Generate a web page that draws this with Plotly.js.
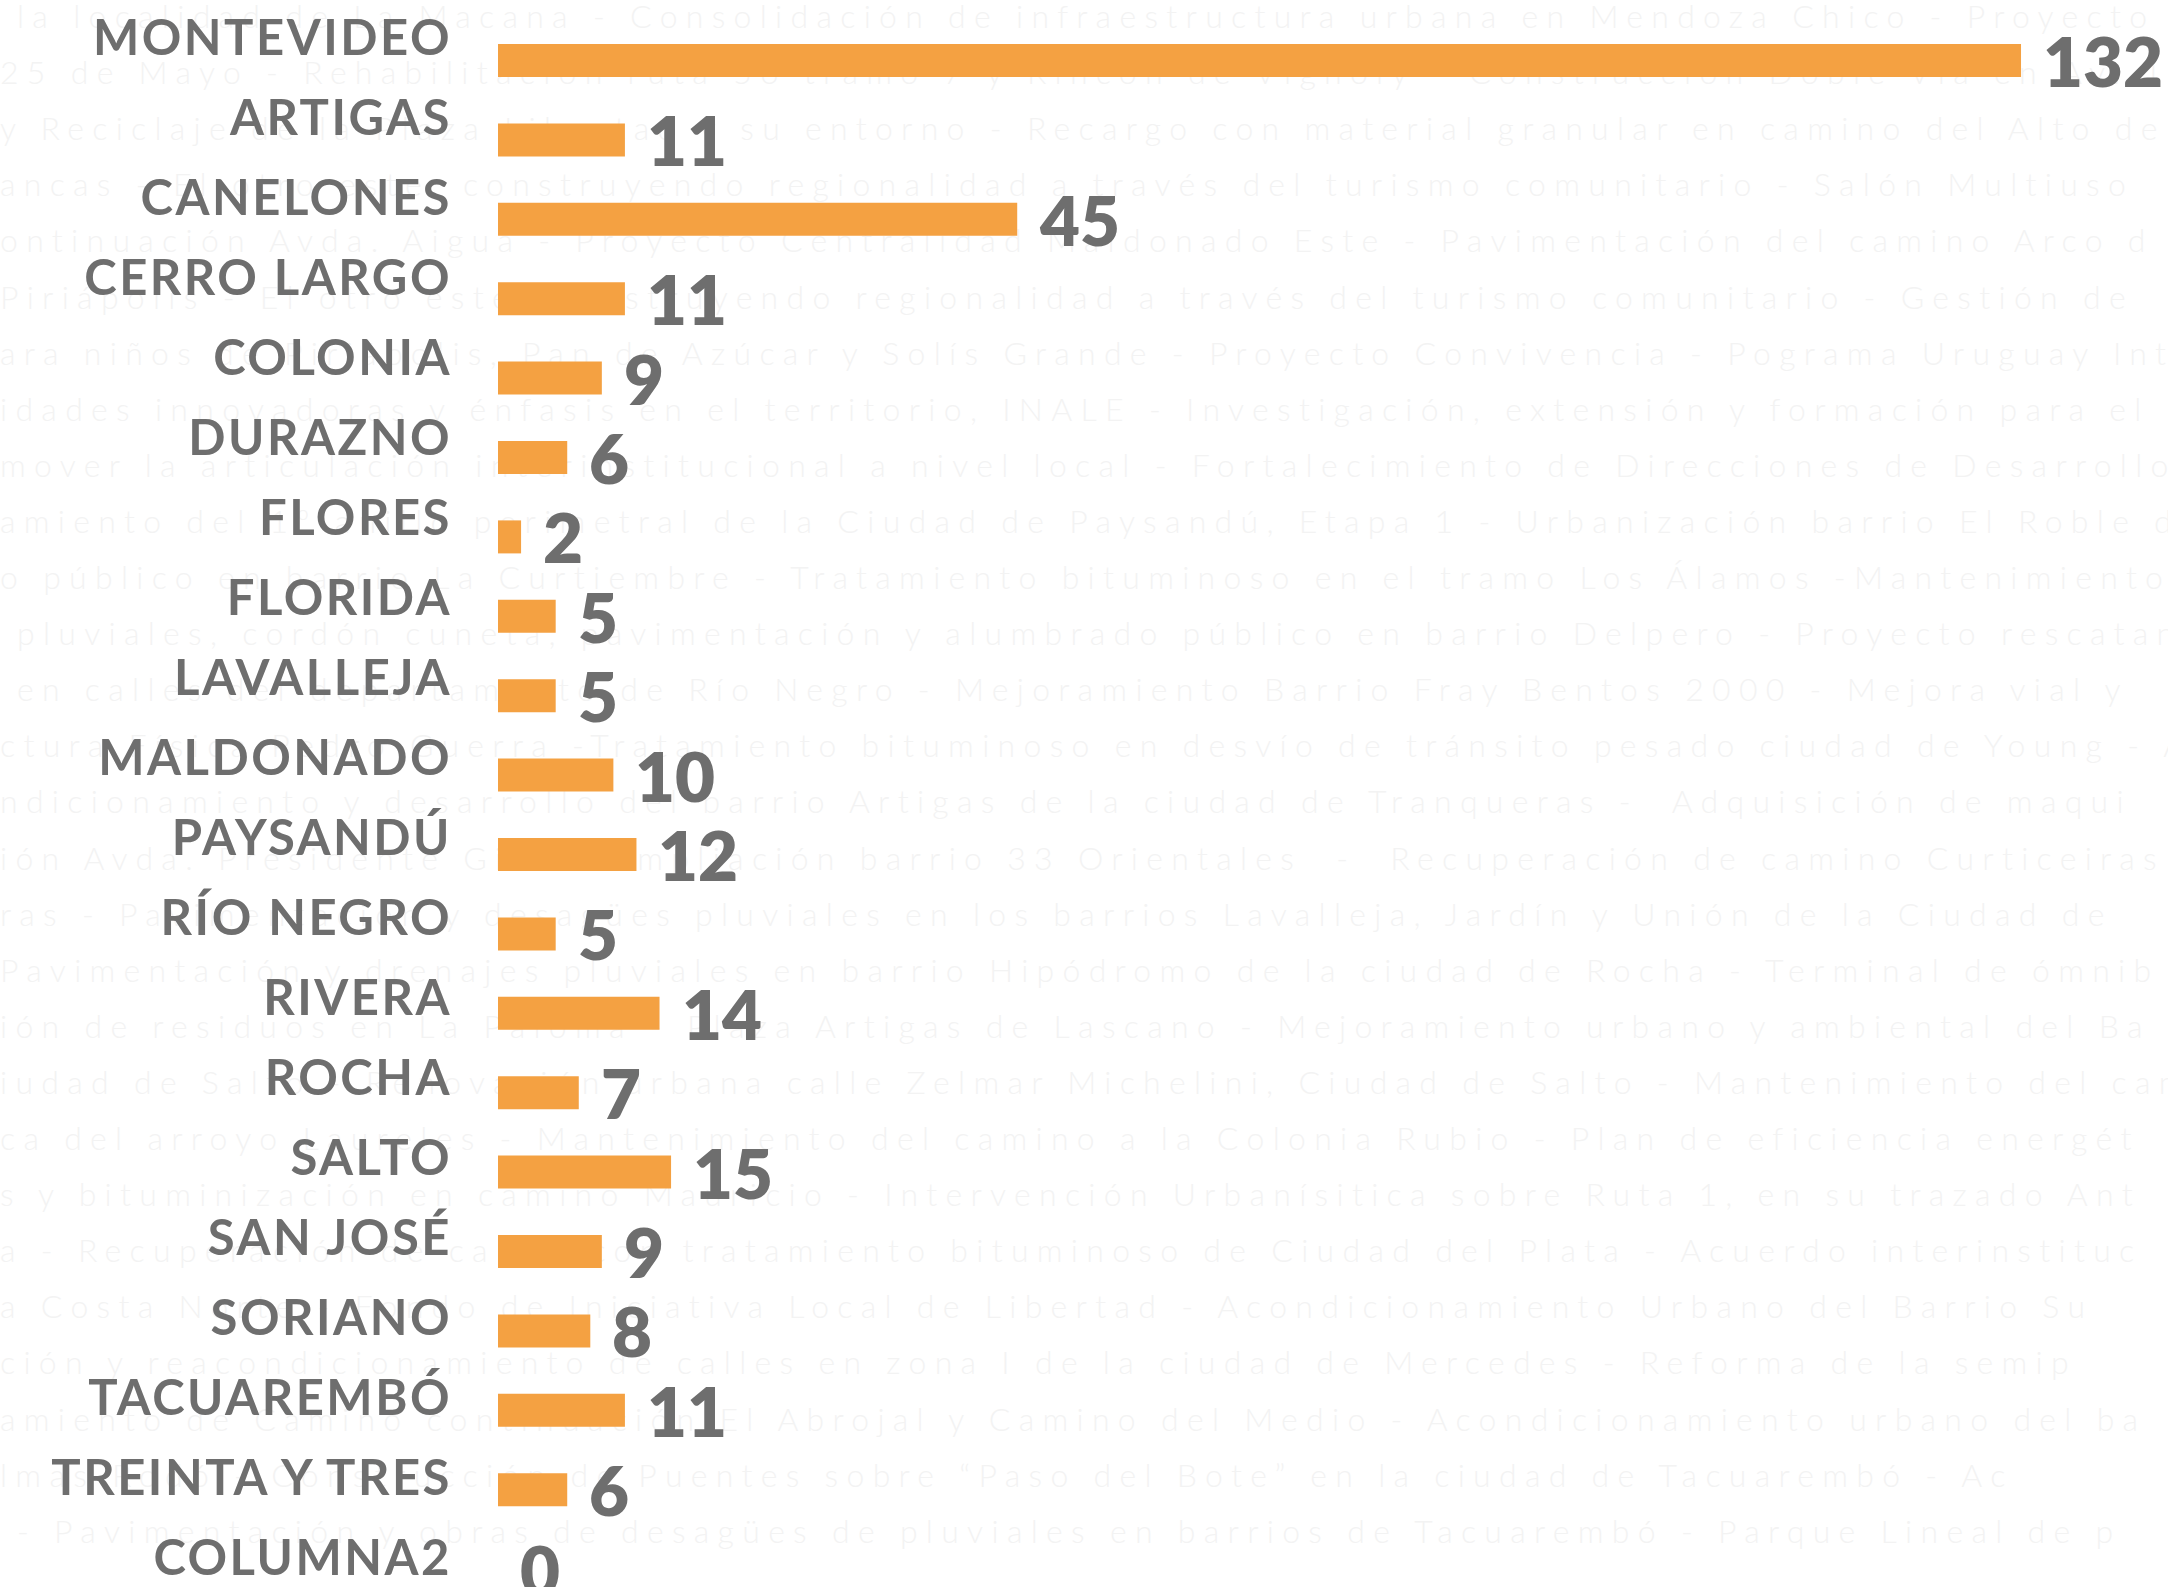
<!DOCTYPE html>
<html>
<head>
<meta charset="utf-8">
<script src="https://cdn.plot.ly/plotly-3.0.1.min.js"></script>
<style>
  html, body { margin: 0; padding: 0; background: #ffffff; }
  #chart { width: 2168px; height: 1587px; }
  .textpoint text { letter-spacing: 8.3px; }
  .y3tick text { letter-spacing: 2.5px; }
</style>
</head>
<body>
<div id="chart"></div>
<script>
// ---- data ----
const categories = [
  "MONTEVIDEO", "ARTIGAS", "CANELONES", "CERRO LARGO", "COLONIA", "DURAZNO",
  "FLORES", "FLORIDA", "LAVALLEJA", "MALDONADO", "PAYSANDÚ", "RÍO NEGRO",
  "RIVERA", "ROCHA", "SALTO", "SAN JOSÉ", "SORIANO", "TACUAREMBÓ",
  "TREINTA Y TRES", "COLUMNA2"
];
const values = [132, 11, 45, 11, 9, 6, 2, 5, 5, 10, 12, 5, 14, 7, 15, 9, 8, 11, 6, 0];

// faint background text (project names)
const backgroundLines = [
  "\u00a0la localidad de La Macana - Consolidación de infraestructura urbana en Mendoza Chico - Proyecto",
  "25 de Mayo - Rehabilitación ruta 56 tramo 7 y Rincón de Vignoly - Construcción Doble Vía en Av. J",
  "y Reciclaje de la Plaza Libertad y su entorno - Recargo con material granular en camino del Alto de S",
  "ancas - El otro este: construyendo regionalidad a través del turismo comunitario - Salón Multiuso",
  "ontinuación Avda. Aigua - Proyecto Centralidad Maldonado Este - Pavimentación del camino Arco d",
  "Piriápolis - El otro este: construyendo regionalidad a través del turismo comunitario - Gestión de",
  "ara niños de Piriápolis, Pan de Azúcar y Solís Grande - Proyecto Convivencia - Pograma Uruguay Int",
  "idades innovadoras y énfasis en el territorio, INALE - Investigación, extensión y formación para el D",
  "mover la articulación interinstitucional a nivel local - Fortalecimiento de Direcciones de Desarrollo",
  "amiento del 1º anillo perimetral de la Ciudad de Paysandú, Etapa 1 - Urbanización barrio El Roble de",
  "o público en barrio La Curtiembre - Tratamiento bituminoso en el tramo Los Álamos -Mantenimiento",
  "\u00a0pluviales, cordón cuneta, pavimentación y alumbrado público en barrio Delpero - Proyecto rescatan",
  "\u00a0en calles del departamento de Río Negro - Mejoramiento Barrio Fray Bentos 2000 - Mejora vial y",
  "ctura Física Pedro Guerra -Tratamiento bituminoso en desvío de tránsito pesado ciudad de Young - A",
  "ndicionamiento y desarrollo del barrio Artigas de la ciudad de Tranqueras -  Adquisición de maqui",
  "ión Avda. Presidente Giró - Ampliación barrio 33 Orientales  -  Recuperación de camino Curticeiras -",
  "ras - Pavimentación y desagües pluviales en los barrios Lavalleja, Jardín y Unión de la Ciudad de",
  "Pavimentación y drenajes pluviales en barrio Hipódromo de la ciudad de Rocha - Terminal de ómnib",
  "ión de residuos en La Paloma - Plaza Artigas de Lascano - Mejoramiento urbano y ambiental del Ba",
  "iudad de Salto - Renovación urbana calle Zelmar Michelini, Ciudad de Salto - Mantenimiento del cam",
  "ca del arroyo Laureles - Mantenimiento del camino a la Colonia Rubio - Plan de eficiencia energét",
  "s y bituminización en camino Mauricio - Intervención Urbanísitica sobre Ruta 1, en su trazado Ant",
  "a - Recuperación de calles con tratamiento bituminoso de Ciudad del Plata - Acuerdo interinstituc",
  "a Costa Norte - Fondo de Iniciativa Local de Libertad - Acondicionamiento Urbano del Barrio Su",
  "ción y reacondicionamiento de calles en zona I de la ciudad de Mercedes - Reforma de la semip",
  "amiento de Camino continuación El Abrojal y Camino del Medio - Acondicionamiento urbano del ba",
  "lmas Rodó - Construcción de Puentes sobre “Paso del Bote” en la ciudad de Tacuarembó - Ac",
  "\u00a0- Pavimentación y obras de desagües de pluviales en barrios de Tacuarembó - Parque Lineal de p",
  "ales Nº25B, 26B, 32, 33, 34 y sus accesos en zona de Ruta Nº59 - Reacondicionamiento de tramo 4"
];

// ---- styles / geometry ----
const W = 2168, H = 1587;
const BAR_COLOR = "#F4A142";
const TEXT_GRAY = "#6e6e6e";
const BG_TEXT = "#f3f3f3";

const barZeroPx = 498, pxPerUnit = 11.538;
const rowPitch = 79.4, firstBarCenter = 60.5;
const labelPitch = 80, firstLabelCenter = 37.5;
const bgPitch = 56.1, firstBgCenter = 20;
const labelRightPx = 452;

const n = categories.length;
const bgIndex = backgroundLines.map((_, i) => i);

const traces = [
  { // background faint text (drawn on the base subplot, below the bars)
    type: "scatter", mode: "text",
    x: backgroundLines.map(() => 0), y: bgIndex, text: backgroundLines,
    textposition: "middle right",
    textfont: { family: "Lato", weight: 300, size: 32, color: BG_TEXT },
    cliponaxis: false, hoverinfo: "skip", showlegend: false,
    xaxis: "x", yaxis: "y"
  },
  { // bars
    type: "bar", orientation: "h",
    x: values, y: categories,
    width: 33 / rowPitch,
    marker: { color: BAR_COLOR, line: { width: 0 } },
    hoverinfo: "skip", showlegend: false,
    xaxis: "x2", yaxis: "y2"
  },
  { // invisible carrier for the category label axis
    type: "scatter", mode: "markers",
    x: values, y: categories,
    marker: { opacity: 0, size: 1 },
    hoverinfo: "skip", showlegend: false,
    xaxis: "x2", yaxis: "y3"
  }
];

const annotations = values.map((v, i) => ({
  xref: "x2", yref: "y2",
  x: v, y: categories[i],
  text: String(v),
  xanchor: "left", yanchor: "middle",
  xshift: 20,
  showarrow: false,
  font: { family: "Lato", weight: 800, size: 69, color: TEXT_GRAY }
}));

const layout = {
  width: W, height: H,
  margin: { l: 0, r: 0, t: 0, b: 0, pad: 0 },
  paper_bgcolor: "#ffffff", plot_bgcolor: "#ffffff",
  showlegend: false,
  xaxis: { domain: [0, 1], range: [0, 1], visible: false, fixedrange: true },
  yaxis: {
    range: [(H - firstBgCenter) / bgPitch, -firstBgCenter / bgPitch],
    visible: false, fixedrange: true
  },
  xaxis2: {
    overlaying: "x",
    range: [-barZeroPx / pxPerUnit, (W - barZeroPx) / pxPerUnit],
    visible: false, fixedrange: true
  },
  yaxis2: {
    overlaying: "y", type: "category",
    categoryorder: "array", categoryarray: categories,
    range: [(n - 1) + (H - (firstBarCenter + (n - 1) * rowPitch)) / rowPitch, -firstBarCenter / rowPitch],
    visible: false, fixedrange: true
  },
  yaxis3: {
    overlaying: "y", type: "category",
    categoryorder: "array", categoryarray: categories,
    range: [(n - 1) + (H - (firstLabelCenter + (n - 1) * labelPitch)) / labelPitch, -firstLabelCenter / labelPitch],
    anchor: "free", position: labelRightPx / W, side: "left",
    showline: false, showgrid: false, zeroline: false,
    ticks: "", ticklen: 0, ticklabelstandoff: 0,
    tickfont: { family: "Lato", weight: 700, size: 49, color: TEXT_GRAY },
    fixedrange: true
  },
  annotations: annotations
};

Plotly.newPlot("chart", traces, layout, { displayModeBar: false, staticPlot: true });
</script>
</body>
</html>
